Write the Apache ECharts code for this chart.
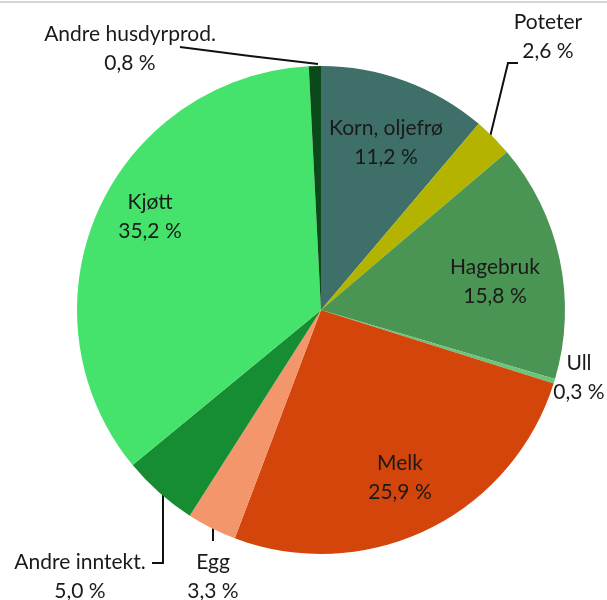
<!DOCTYPE html>
<html>
<head>
<meta charset="utf-8">
<script src="https://cdn.jsdelivr.net/npm/echarts@6/dist/echarts.min.js"></script>
<style>
  html, body { margin: 0; padding: 0; background: #fff; }
  #main { width: 607px; height: 600px; }
</style>
</head>
<body>
<div id="main"></div>
<script>
// andel av inntekt, prosent
const names = ['Korn, oljefrø', 'Poteter', 'Hagebruk', 'Ull', 'Melk', 'Egg', 'Andre inntekt.', 'Kjøtt', 'Andre husdyrprod.']
const values = [11.2, 2.6, 15.8, 0.3, 25.9, 3.3, 5.0, 35.2, 0.8]
const colors = ['#3e6f68', '#b3b300', '#4a9553', '#6cc47a', '#d4450c', '#f4966b', '#168c33', '#46e36c', '#0a4a1a']

// where each label sits (centre of the two-line block)
const labelPos = {
  'Korn, oljefrø': [386, 143],
  'Poteter': [548, 37],
  'Hagebruk': [495, 282],
  'Ull': [579, 378],
  'Melk': [400, 478],
  'Egg': [213, 577],
  'Andre inntekt.': [80, 577],
  'Kjøtt': [150, 217],
  'Andre husdyrprod.': [130, 49]
}
// leader lines for the small slices
const leaders = {
  'Poteter': [[490, 137], [508, 63], [518, 63]],
  'Egg': [[213, 517], [213, 530], [213, 541]],
  'Andre inntekt.': [[163, 482], [163, 563], [152, 563]],
  'Andre husdyrprod.': [[318, 64], [250, 56], [180, 47]]
}

const fmt = v => v.toFixed(1).replace('.', ',') + ' %'

const chart = echarts.init(document.getElementById('main'))
chart.setOption({
  animation: false,
  graphic: [{
    type: 'line',
    shape: {x1: 0, y1: 2, x2: 607, y2: 2},
    style: {stroke: '#c8c8c8', lineWidth: 1.5}
  }],
  series: [{
    type: 'pie',
    center: [321, 310],
    radius: 244,
    startAngle: 90,
    clockwise: true,
    avoidLabelOverlap: false,
    label: {
      show: true,
      position: 'outside',
      fontFamily: 'Lato',
      fontSize: 21,
      lineHeight: 29,
      color: '#1a1a1a',
      align: 'center',
      formatter: p => p.name + '\n' + fmt(p.value)
    },
    labelLine: {
      show: true,
      lineStyle: {color: '#111', width: 2}
    },
    labelLayout: p => {
      const n = names[p.dataIndex]
      const pos = labelPos[n]
      const out = {x: pos[0], y: pos[1], align: 'center', verticalAlign: 'middle'}
      if (leaders[n]) out.labelLinePoints = leaders[n]
      return out
    },
    data: names.map((n, i) => ({
      name: n,
      value: values[i],
      itemStyle: {color: colors[i]},
      labelLine: {show: !!leaders[n]}
    }))
  }]
})
</script>
</body>
</html>
